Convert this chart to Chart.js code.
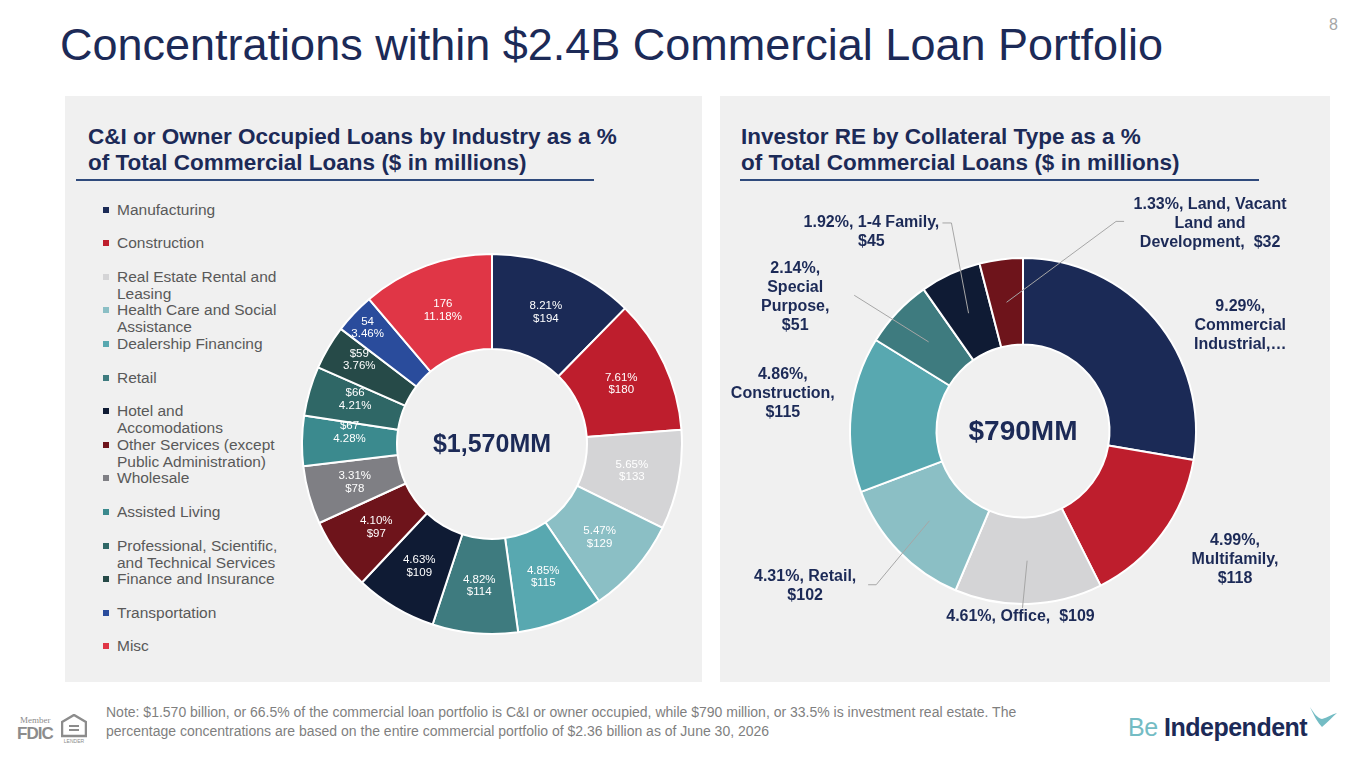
<!DOCTYPE html>
<html lang="en">
<head>
<meta charset="UTF-8">
<title>Concentrations within $2.4B Commercial Loan Portfolio</title>
<script src="https://cdn.jsdelivr.net/npm/chart.js"></script>
<style>
  body { margin: 0; width: 1365px; height: 768px; position: relative; overflow: hidden; background: #fff;
         font-family: Arial, "Liberation Sans", sans-serif; }
  .abs { position: absolute; }
  #title { left: 60px; top: 20px; font-size: 45px; line-height: 50px; color: #1c2a57; white-space: nowrap; }
  #page { left: 1329px; top: 16px; font-size: 16px; color: #a6a6a6; }
  .panel { background: #f0f0f0; top: 96px; height: 586px; }
  .sub { font-size: 22.5px; font-weight: bold; line-height: 26px; color: #1c2a57; top: 124px; white-space: nowrap; }
  .rule { height: 2px; background: #2f4a7c; top: 179px; }
  #legend { left: 103px; top: 0; }
  .item { position: absolute; left: 0; width: 168px; font-size: 15.5px; line-height: 17px; color: #595959; padding-left: 14px; }
  .item i { position: absolute; left: 0; top: 6px; width: 6px; height: 6px; }
  #note { left: 106px; top: 703px; font-size: 14px; line-height: 19px; color: #7f7f7f; width: 930px; }
  #logo { left: 1128px; top: 713px; font-size: 25px; font-weight: bold; letter-spacing: -0.5px; color: #1c2a57; }
  #logo span { color: #74bcc4; font-weight: normal; }
  #fdic { left: 17px; top: 716px; color: #8c8c8c; font-family: "Liberation Serif", serif; }
</style>
</head>
<body>
<div id="title" class="abs">Concentrations within $2.4B Commercial Loan Portfolio</div>
<div id="page" class="abs">8</div>

<div class="abs panel" style="left:65px;width:637px"></div>
<div class="abs panel" style="left:720px;width:610px"></div>

<div class="abs sub" style="left:88px">C&amp;I or Owner Occupied Loans by Industry as a %<br>of Total Commercial Loans ($ in millions)</div>
<div class="abs sub" style="left:741px">Investor RE by Collateral Type as a %<br>of Total Commercial Loans ($ in millions)</div>
<div class="abs rule" style="left:76px;width:518px"></div>
<div class="abs rule" style="left:740px;width:519px"></div>

<div id="legend" class="abs"></div>

<canvas id="leftChart" class="abs" style="left:301px;top:253px" width="382" height="382"></canvas>
<canvas id="rightChart" class="abs" style="left:720px;top:185px" width="610" height="455"></canvas>

<div id="note" class="abs">Note: $1.570 billion, or 66.5% of the commercial loan portfolio is C&amp;I or owner occupied, while $790 million, or 33.5% is investment real estate. The percentage concentrations are based on the entire commercial portfolio of $2.36 billion as of June 30, 2026</div>

<div id="fdic" class="abs">
  <div style="font-size:9px;line-height:9px;padding-left:3px">Member</div>
  <div style="font-size:17px;line-height:17px;font-weight:bold;font-family:Arial,sans-serif;letter-spacing:-1px">FDIC</div>
  <svg class="abs" style="left:44px;top:-2px" width="26" height="30" viewBox="0 0 26 30">
    <path d="M13 1 L1 8 V22 H25 V8 Z" fill="none" stroke="#8c8c8c" stroke-width="2.5"/>
    <rect x="8" y="11" width="10" height="2" fill="#8c8c8c"/><rect x="8" y="15" width="10" height="2" fill="#8c8c8c"/>
    <text x="13" y="29" font-size="5" text-anchor="middle" fill="#8c8c8c" font-family="Arial">LENDER</text>
  </svg>
</div>

<div id="logo" class="abs"><span>Be</span> Independent
  <svg style="position:absolute;left:180px;top:-8px" width="30" height="26" viewBox="0 0 30 26">
    <path d="M2 2 C6 8 9 13 14 14 C19 13 24 9 29 8 C24 12 20 17 14 22 C10 18 6 11 2 2 Z" fill="#74bcc4"/>
  </svg>
</div>

<script>
// C&I / owner occupied, clockwise from 12 o'clock
const leftCategories = ['Manufacturing', 'Construction', 'Real Estate Rental and Leasing',
  'Health Care and Social Assistance', 'Dealership Financing', 'Retail', 'Hotel and Accomodations',
  'Other Services (except Public Administration)', 'Wholesale', 'Assisted Living',
  'Professional, Scientific, and Technical Services', 'Finance and Insurance', 'Transportation', 'Misc'];
const leftValues = [194, 180, 133, 129, 115, 114, 109, 97, 78, 67, 66, 59, 54, 176];
const leftLabels = [['8.21%', '$194'], ['7.61%', '$180'], ['5.65%', '$133'], ['5.47%', '$129'],
  ['4.85%', '$115'], ['4.82%', '$114'], ['4.63%', '$109'], ['4.10%', '$97'], ['3.31%', '$78'],
  ['$67', '4.28%'], ['$66', '4.21%'], ['$59', '3.76%'], ['54', '3.46%'], ['176', '11.18%']];
const leftColors = ['#1b2a56', '#be1e2d', '#d4d4d6', '#8bbfc5', '#58a8b0', '#3e7b7f', '#0f1b34',
  '#6e141b', '#7f7f84', '#3b8a8e', '#2f6766', '#264a48', '#2a4c9c', '#e03646'];
const leftTotal = '$1,570MM';

// Investor RE by collateral type
const rightCategories = ['Commercial Industrial', 'Multifamily', 'Office', 'Retail', 'Construction',
  'Special Purpose', '1-4 Family', 'Land, Vacant Land and Development'];
const rightValues = [219, 118, 109, 102, 115, 51, 45, 32];
const rightLabels = [['9.29%,', 'Commercial', 'Industrial,…'], ['4.99%,', 'Multifamily,', '$118'],
  ['4.61%, Office,  $109'], ['4.31%, Retail,', '$102'], ['4.86%,', 'Construction,', '$115'],
  ['2.14%,', 'Special', 'Purpose,', '$51'], ['1.92%, 1-4 Family,', '$45'],
  ['1.33%, Land, Vacant', 'Land and', 'Development,  $32']];
const rightColors = ['#1b2a56', '#be1e2d', '#d4d4d6', '#8bbfc5', '#58a8b0', '#3e7b7f', '#0f1b34', '#6e141b'];
const rightTotal = '$790MM';

// legend rows (left panel)
const legend = document.getElementById('legend');
leftCategories.forEach((name, i) => {
  const d = document.createElement('div');
  d.className = 'item';
  d.style.top = (200.5 + i * 33.6) + 'px';
  d.innerHTML = '<i style="background:' + leftColors[i] + '"></i>' + name;
  legend.appendChild(d);
});

// labels drawn inside the slices
const sliceLabels = {
  id: 'sliceLabels',
  afterDatasetsDraw(chart, args, opts) {
    if (!opts.lines) return;
    const ctx = chart.ctx;
    ctx.save();
    ctx.font = opts.font;
    ctx.fillStyle = opts.color;
    ctx.textAlign = 'center';
    ctx.textBaseline = 'middle';
    chart.getDatasetMeta(0).data.forEach((arc, i) => {
      const p = arc.getCenterPoint();
      const s = (opts.shift && opts.shift[i]) || [0, 0];
      const lines = opts.lines[i];
      lines.forEach((t, j) => {
        ctx.fillText(t, p.x + s[0], p.y + s[1] + (j - (lines.length - 1) / 2) * opts.lineHeight);
      });
    });
    ctx.restore();
  }
};

// labels outside the ring, some with leader lines
const calloutLabels = {
  id: 'calloutLabels',
  afterDatasetsDraw(chart, args, opts) {
    if (!opts.lines) return;
    const ctx = chart.ctx;
    ctx.save();
    chart.getDatasetMeta(0).data.forEach((arc, i) => {
      const mid = (arc.startAngle + arc.endAngle) / 2;
      const lx = arc.x + arc.outerRadius * Math.cos(mid) + opts.nudge[i][0];
      const ly = arc.y + arc.outerRadius * Math.sin(mid) + opts.nudge[i][1];
      const lead = opts.leader[i];
      if (lead) {
        const p = arc.getCenterPoint();
        ctx.strokeStyle = '#a6a6a6';
        ctx.lineWidth = 1;
        ctx.beginPath();
        ctx.moveTo(p.x, p.y);
        ctx.lineTo(lx + lead[0], ly + lead[1]);
        if (lead[2]) ctx.lineTo(lx + lead[0] + lead[2], ly + lead[1]);
        ctx.stroke();
      }
      const lines = opts.lines[i];
      ctx.font = opts.font;
      ctx.fillStyle = opts.color;
      ctx.textAlign = 'center';
      ctx.textBaseline = 'middle';
      lines.forEach((t, j) => {
        ctx.fillText(t, lx, ly + (j - (lines.length - 1) / 2) * opts.lineHeight);
      });
    });
    ctx.restore();
  }
};

const centerText = {
  id: 'centerText',
  afterDatasetsDraw(chart, args, opts) {
    const arc = chart.getDatasetMeta(0).data[0];
    const ctx = chart.ctx;
    ctx.save();
    ctx.font = opts.font;
    ctx.fillStyle = '#1c2a57';
    ctx.textAlign = 'center';
    ctx.textBaseline = 'middle';
    ctx.fillText(opts.text, arc.x, arc.y + 1);
    ctx.restore();
  }
};

function ring(id, labels, values, colors, padding, plugins) {
  return new Chart(document.getElementById(id), {
    type: 'doughnut',
    data: {
      labels: labels,
      datasets: [{
        data: values,
        backgroundColor: colors,
        borderColor: '#ffffff',
        borderWidth: 2
      }]
    },
    options: {
      responsive: false,
      animation: false,
      cutout: '50%',
      layout: { padding: padding },
      plugins: Object.assign({ legend: { display: false }, tooltip: { enabled: false } }, plugins)
    },
    plugins: [sliceLabels, calloutLabels, centerText]
  });
}

ring('leftChart', leftCategories, leftValues, leftColors, 0, {
  sliceLabels: {
    lines: leftLabels, font: '11.5px Arial, "Liberation Sans"', color: '#ffffff', lineHeight: 12.5,
    shift: [null, null, null, null, null, null, null, null, null, [0, -9], [0, -5], [-10, -12], [-21, -18], null]
  },
  centerText: { text: leftTotal, font: 'bold 25px Arial, "Liberation Sans"' }
});

ring('rightChart', rightCategories, rightValues, rightColors,
  { left: 129, right: 133, top: 72, bottom: 35 }, {
  calloutLabels: {
    lines: rightLabels, font: 'bold 16px Arial, "Liberation Sans"', color: '#1c2a57', lineHeight: 19,
    nudge: [[85, 6], [73, 26], [-8, 13], [-93, 35], [-68, -21], [-102, -15], [-79, -42], [209, -36]],
    leader: [null, null, [2, -9], [71, -1, -8], null, [59, -2], [80, -9, -9], [-94, -2, 8]]
  },
  centerText: { text: rightTotal, font: 'bold 28px Arial, "Liberation Sans"' }
});
</script>
</body>
</html>
